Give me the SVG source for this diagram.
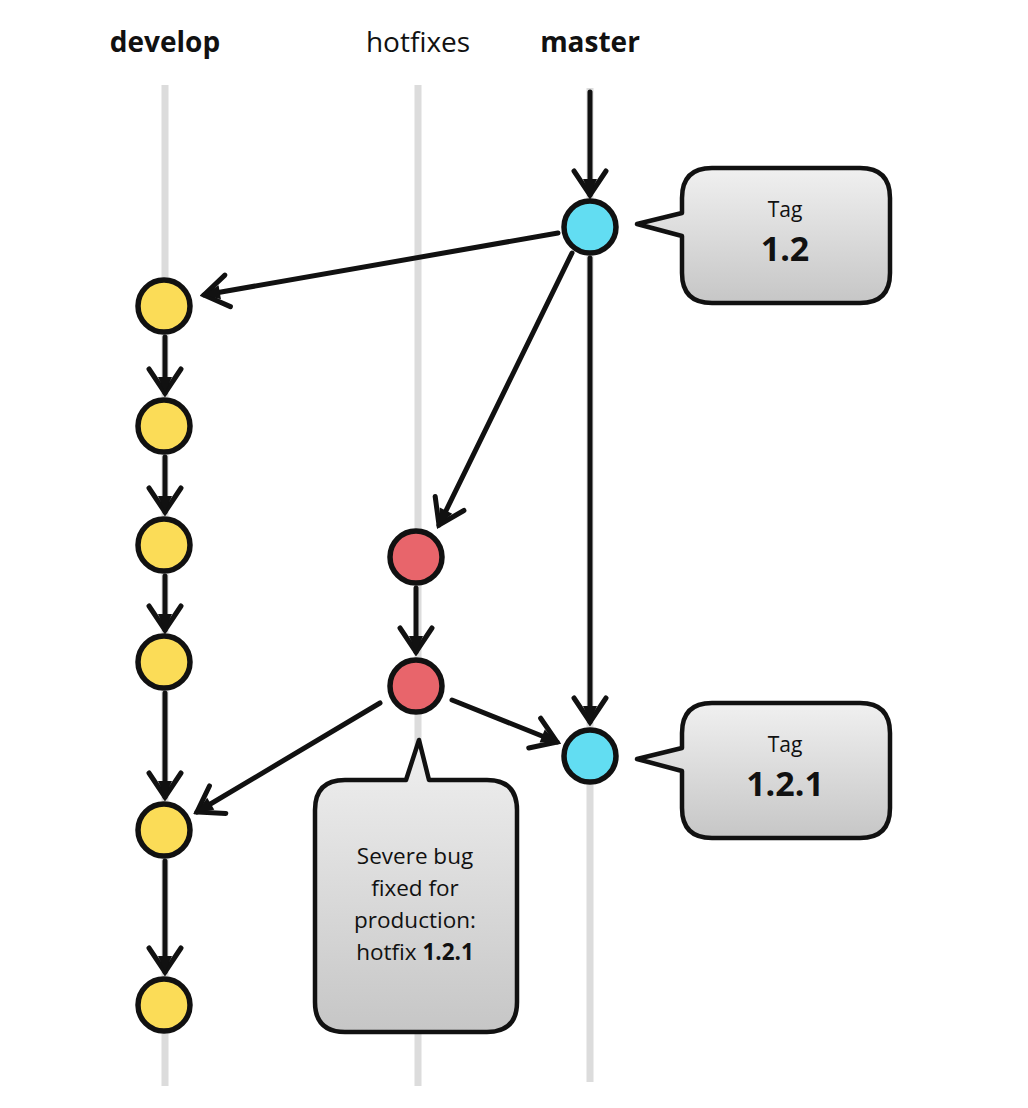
<svg xmlns="http://www.w3.org/2000/svg" width="1028" height="1108" viewBox="0 0 1028 1108">
  <defs>
    <linearGradient id="boxg" x1="0" y1="0" x2="0" y2="1">
      <stop offset="0" stop-color="#f0f0f0"/>
      <stop offset="1" stop-color="#c6c6c6"/>
    </linearGradient>
    <marker id="arr" viewBox="-28 -20 32 40" refX="0" refY="0" markerWidth="32" markerHeight="40" markerUnits="userSpaceOnUse" orient="auto">
      <path d="M-24,-16 L0,0 L-24,16" fill="none" stroke="#111" stroke-width="5" stroke-linejoin="miter" stroke-linecap="round"/>
      <path d="M-16,-7 L0,0 L-16,7 Z" fill="#111"/>
    </marker>
    <style>
      .lane { stroke: #dcdcdc; stroke-width: 7; fill: none; }
      .edge { stroke: #111; stroke-width: 5; fill: none; marker-end: url(#arr); stroke-linecap: round; }
      .dev { fill: #fbdc57; stroke: #111; stroke-width: 5.5; }
      .hot { fill: #e8656b; stroke: #111; stroke-width: 5.5; }
      .mas { fill: #62ddf2; stroke: #111; stroke-width: 5.5; }
      .box { fill: url(#boxg); stroke: #111; stroke-width: 4.5; stroke-linejoin: round; }
      .t { font-family: "Open Sans", "Noto Sans", sans-serif; fill: #111; text-anchor: middle; }
      .hdr { font-size: 28px; }
      .b { font-weight: bold; }
      .body { font-size: 22.5px; }
      .tag { font-size: 21px; }
      .ver { font-size: 34px; font-weight: bold; }
    </style>
  </defs>
  <rect x="0" y="0" width="1028" height="1108" fill="#ffffff"/>

  <g id="lanes">
    <line class="lane" x1="165" y1="85" x2="165" y2="1086"/>
    <line class="lane" x1="418" y1="85" x2="418" y2="1086"/>
    <line class="lane" x1="590" y1="88" x2="590" y2="1082"/>
  </g>

  <g id="headers">
    <text class="t hdr b" x="165" y="52">develop</text>
    <text class="t hdr" x="418" y="52">hotfixes</text>
    <text class="t hdr b" x="590" y="52">master</text>
  </g>

  <g id="connectors">
    <line class="edge" x1="590" y1="92" x2="590" y2="195"/>
    <line class="edge" x1="558" y1="233" x2="204" y2="295"/>
    <line class="edge" x1="572" y1="253" x2="439" y2="525"/>
    <line class="edge" x1="590" y1="258" x2="590" y2="722"/>
    <line class="edge" x1="165" y1="337" x2="165" y2="393"/>
    <line class="edge" x1="165" y1="457" x2="165" y2="512"/>
    <line class="edge" x1="165" y1="576" x2="165" y2="630"/>
    <line class="edge" x1="165" y1="693" x2="165" y2="797"/>
    <line class="edge" x1="165" y1="861" x2="165" y2="972"/>
    <line class="edge" x1="416" y1="588" x2="416" y2="652"/>
    <line class="edge" x1="452" y1="700" x2="557" y2="742"/>
    <line class="edge" x1="380" y1="703" x2="197" y2="812"/>
  </g>

  <g id="callout-tag-1-2">
    <path class="box" d="M712,168 H860 Q890,168 890,198 V273 Q890,303 860,303 H712 Q682,303 682,273 V236 L637,224 L682,213 V198 Q682,168 712,168 Z"/>
    <text class="t tag" x="785" y="217">Tag</text>
    <text class="t ver" x="785" y="261">1.2</text>
  </g>

  <g id="callout-tag-1-2-1">
    <path class="box" d="M712,703 H860 Q890,703 890,733 V808 Q890,838 860,838 H712 Q682,838 682,808 V771 L637,759 L682,748 V733 Q682,703 712,703 Z"/>
    <text class="t tag" x="785" y="752">Tag</text>
    <text class="t ver" x="785" y="796">1.2.1</text>
  </g>

  <g id="callout-hotfix">
    <path class="box" d="M345,780 H406 L419,740 L429,780 H487 Q517,780 517,810 V1002 Q517,1032 487,1032 H345 Q315,1032 315,1002 V810 Q315,780 345,780 Z"/>
    <text class="t body" x="415" y="864">Severe bug</text>
    <text class="t body" x="415" y="896">fixed for</text>
    <text class="t body" x="415" y="928">production:</text>
    <text class="t body" x="415" y="960">hotfix <tspan class="b">1.2.1</tspan></text>
  </g>

  <g id="develop-1"><circle class="dev" cx="164" cy="306" r="26"/></g>
  <g id="develop-2"><circle class="dev" cx="164" cy="426" r="26"/></g>
  <g id="develop-3"><circle class="dev" cx="164" cy="545" r="26"/></g>
  <g id="develop-4"><circle class="dev" cx="164" cy="662" r="26"/></g>
  <g id="develop-5"><circle class="dev" cx="164" cy="830" r="26"/></g>
  <g id="develop-6"><circle class="dev" cx="164" cy="1005" r="26"/></g>
  <g id="hotfix-1"><circle class="hot" cx="416" cy="557" r="26"/></g>
  <g id="hotfix-2"><circle class="hot" cx="416" cy="686" r="26"/></g>
  <g id="master-1"><circle class="mas" cx="590" cy="227" r="26"/></g>
  <g id="master-2"><circle class="mas" cx="590" cy="756" r="26"/></g>
</svg>
